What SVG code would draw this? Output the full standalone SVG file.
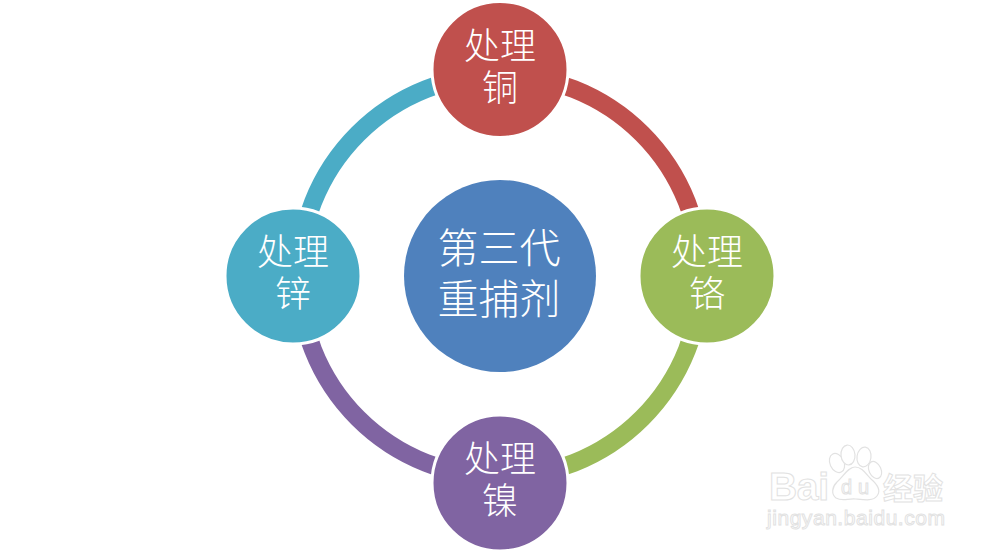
<svg xmlns="http://www.w3.org/2000/svg" width="1000" height="552" viewBox="0 0 1000 552">
<style>
.arc{fill:none;stroke-width:18}
.n{stroke:#fff;stroke-width:3}
.t{fill:#fff;font-family:"Noto Sans CJK SC","Noto Sans",sans-serif;font-weight:300;text-anchor:middle}
.s{font-size:36px}
.b{font-size:41px}
.w{fill:#fff;stroke:#e2e2e2;stroke-width:1;font-family:"Liberation Sans","Noto Sans CJK SC",sans-serif}
.p{fill:#fff;stroke:#e2e2e2;stroke-width:1.2}
</style>
<rect width="1000" height="552" fill="#fff"/>
<g id="connectors">
<path class="arc" stroke="#c0504d" d="M500 75A201 201 0 0 1 701 276"/>
<path class="arc" stroke="#9bbb59" d="M701 276A201 201 0 0 1 500 477"/>
<path class="arc" stroke="#8064a2" d="M500 477A201 201 0 0 1 299 276"/>
<path class="arc" stroke="#4bacc6" d="M299 276A201 201 0 0 1 500 75"/>
</g>
<g id="center"><circle cx="500" cy="276" r="96" fill="#4f81bd"/>
<text class="t b"><tspan x="499" y="263">第三代</tspan><tspan x="499" y="314">重捕剂</tspan></text></g>
<g id="copper"><circle class="n" cx="500" cy="69.500" r="68" fill="#c0504d"/>
<text class="t s"><tspan x="500" y="59">处理</tspan><tspan x="500" y="101">铜</tspan></text></g>
<g id="chromium"><circle class="n" cx="707" cy="276" r="68" fill="#9bbb59"/>
<text class="t s"><tspan x="707" y="265">处理</tspan><tspan x="707" y="307">铬</tspan></text></g>
<g id="nickel"><circle class="n" cx="500" cy="483" r="68" fill="#8064a2"/>
<text class="t s"><tspan x="500" y="472">处理</tspan><tspan x="500" y="514">镍</tspan></text></g>
<g id="zinc"><circle class="n" cx="293" cy="276" r="68" fill="#4bacc6"/>
<text class="t s"><tspan x="293" y="265">处理</tspan><tspan x="293" y="307">锌</tspan></text></g>
<g id="watermark">
<ellipse class="p" cx="837" cy="463" rx="7" ry="10" transform="rotate(-25 837 463)"/>
<ellipse class="p" cx="848" cy="455" rx="7" ry="10" transform="rotate(-5 848 455)"/>
<ellipse class="p" cx="864" cy="457" rx="7" ry="10" transform="rotate(8 864 457)"/>
<ellipse class="p" cx="875" cy="470" rx="6" ry="9" transform="rotate(-25 875 470)"/>
<path class="p" d="M855 467C862 467 866 474 871 479C878 485 881 491 877 496C873 501 866 500 856 499C848 498 843 502 836 498C831 494 832 487 837 482C843 477 848 467 855 467Z"/>
<text class="w" x="769" y="500" font-size="39" font-weight="700" textLength="60">Bai</text>
<text class="w" x="841" y="494" font-size="20" textLength="28">du</text>
<text class="w" x="883" y="499" font-size="30" font-weight="700">经验</text>
<text class="w" x="767" y="525" font-size="21" textLength="178">jingyan.baidu.com</text>
</g>
</svg>
